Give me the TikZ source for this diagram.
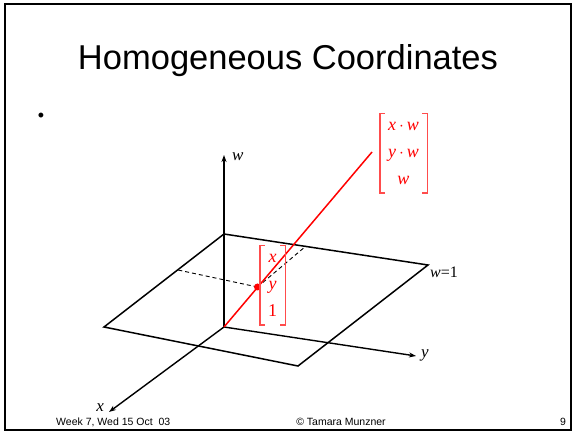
\documentclass[tikz,border=0pt]{standalone}
\usepackage{fontspec}
\setmainfont{Liberation Serif}
\newfontfamily\arialfont{Liberation Sans}
\usetikzlibrary{arrows.meta}
\tikzset{
  axis/.style={line width=1.4pt,-{Stealth[length=7pt,width=5pt]}},
  plane/.style={line width=1.5pt,line join=miter},
  proj/.style={line width=0.9pt,dash pattern=on 4pt off 3pt},
  ray/.style={line width=1.5pt,draw=red},
  bracket/.style={draw=red!70,line width=1.4pt},
  mat/.style={text=red,font=\fontsize{18}{26}\selectfont\itshape,inner sep=0pt,align=center},
  lbl/.style={font=\fontsize{17}{20}\selectfont\itshape,inner sep=0pt},
  foot/.style={font=\arialfont\fontsize{10.5}{12}\selectfont,inner sep=0pt}
}
\begin{document}
\begin{tikzpicture}[x=1pt,y=-1pt]
\useasboundingbox (0,0) rectangle (574,433);
\fill[white] (0,0) rectangle (574,433);
\draw[line width=2pt] (4.5,4.5) rectangle (571,430);

\node[font=\arialfont\fontsize{34.5}{40}\selectfont,inner sep=0pt] (title) at (288,61) {Homogeneous Coordinates};
\node[font=\arialfont\fontsize{18}{20}\selectfont,inner sep=0pt] (bullet) at (41,117) {•};

% axes
\coordinate (O) at (224,327);
\coordinate (wtip) at (224,155);
\coordinate (ytip) at (416,356);
\coordinate (xtip) at (109,412);
\draw[axis] (O) -- (wtip);
\draw[axis] (O) -- (ytip);
\draw[axis] (O) -- (xtip);
\node[lbl,anchor=west] (wl) at (232,157) {w};
\node[lbl,anchor=west] (yl) at (421,355) {y};
\node[lbl,anchor=east] (xl) at (104,408) {x};

% plane w=1
\coordinate (pb) at (224,234);
\coordinate (pr) at (428,265);
\coordinate (pf) at (298,366);
\coordinate (pl) at (104,327);
\draw[plane] (pb) -- (pr) -- (pf) -- (pl) -- cycle;
\node[anchor=west,inner sep=0pt,font=\fontsize{16}{18}\selectfont] (w1) at (430,272) {\textit{w}=1};

% projections
\coordinate (P) at (257.5,287);
\coordinate (d1) at (178,270);
\coordinate (d2) at (306,246);
\draw[proj] (P) -- (d1);
\draw[proj] (P) -- (d2);

% ray
\coordinate (E) at (372,152);
\draw[ray] (O) -- (E);
\fill[red] (P) circle (3.5pt);

% small matrix
\node[mat,minimum width=25pt,minimum height=79pt] (m1) at (272.5,285.5) {x\\[1pt]y\\[1pt]\upshape 1};
\draw[bracket] ([xshift=5pt]m1.north west) -- (m1.north west) -- (m1.south west) -- ([xshift=5pt]m1.south west);
\draw[bracket] ([xshift=-5pt]m1.north east) -- (m1.north east) -- (m1.south east) -- ([xshift=-5pt]m1.south east);

% big matrix
\node[mat,minimum width=47pt,minimum height=79pt] (m2) at (403.5,153.5) {x\,$\cdot$\,w\\[1pt]y\,$\cdot$\,w\\[1pt]w};
\draw[bracket] ([xshift=5pt]m2.north west) -- (m2.north west) -- (m2.south west) -- ([xshift=5pt]m2.south west);
\draw[bracket] ([xshift=-5pt]m2.north east) -- (m2.north east) -- (m2.south east) -- ([xshift=-5pt]m2.south east);

% footer
\node[foot,anchor=west] (f1) at (56,422) {Week 7, Wed 15 Oct\ \ 03};
\node[foot] (f2) at (341,422) {© Tamara Munzner};
\node[foot] (f3) at (563,422) {9};
\end{tikzpicture}
\end{document}
